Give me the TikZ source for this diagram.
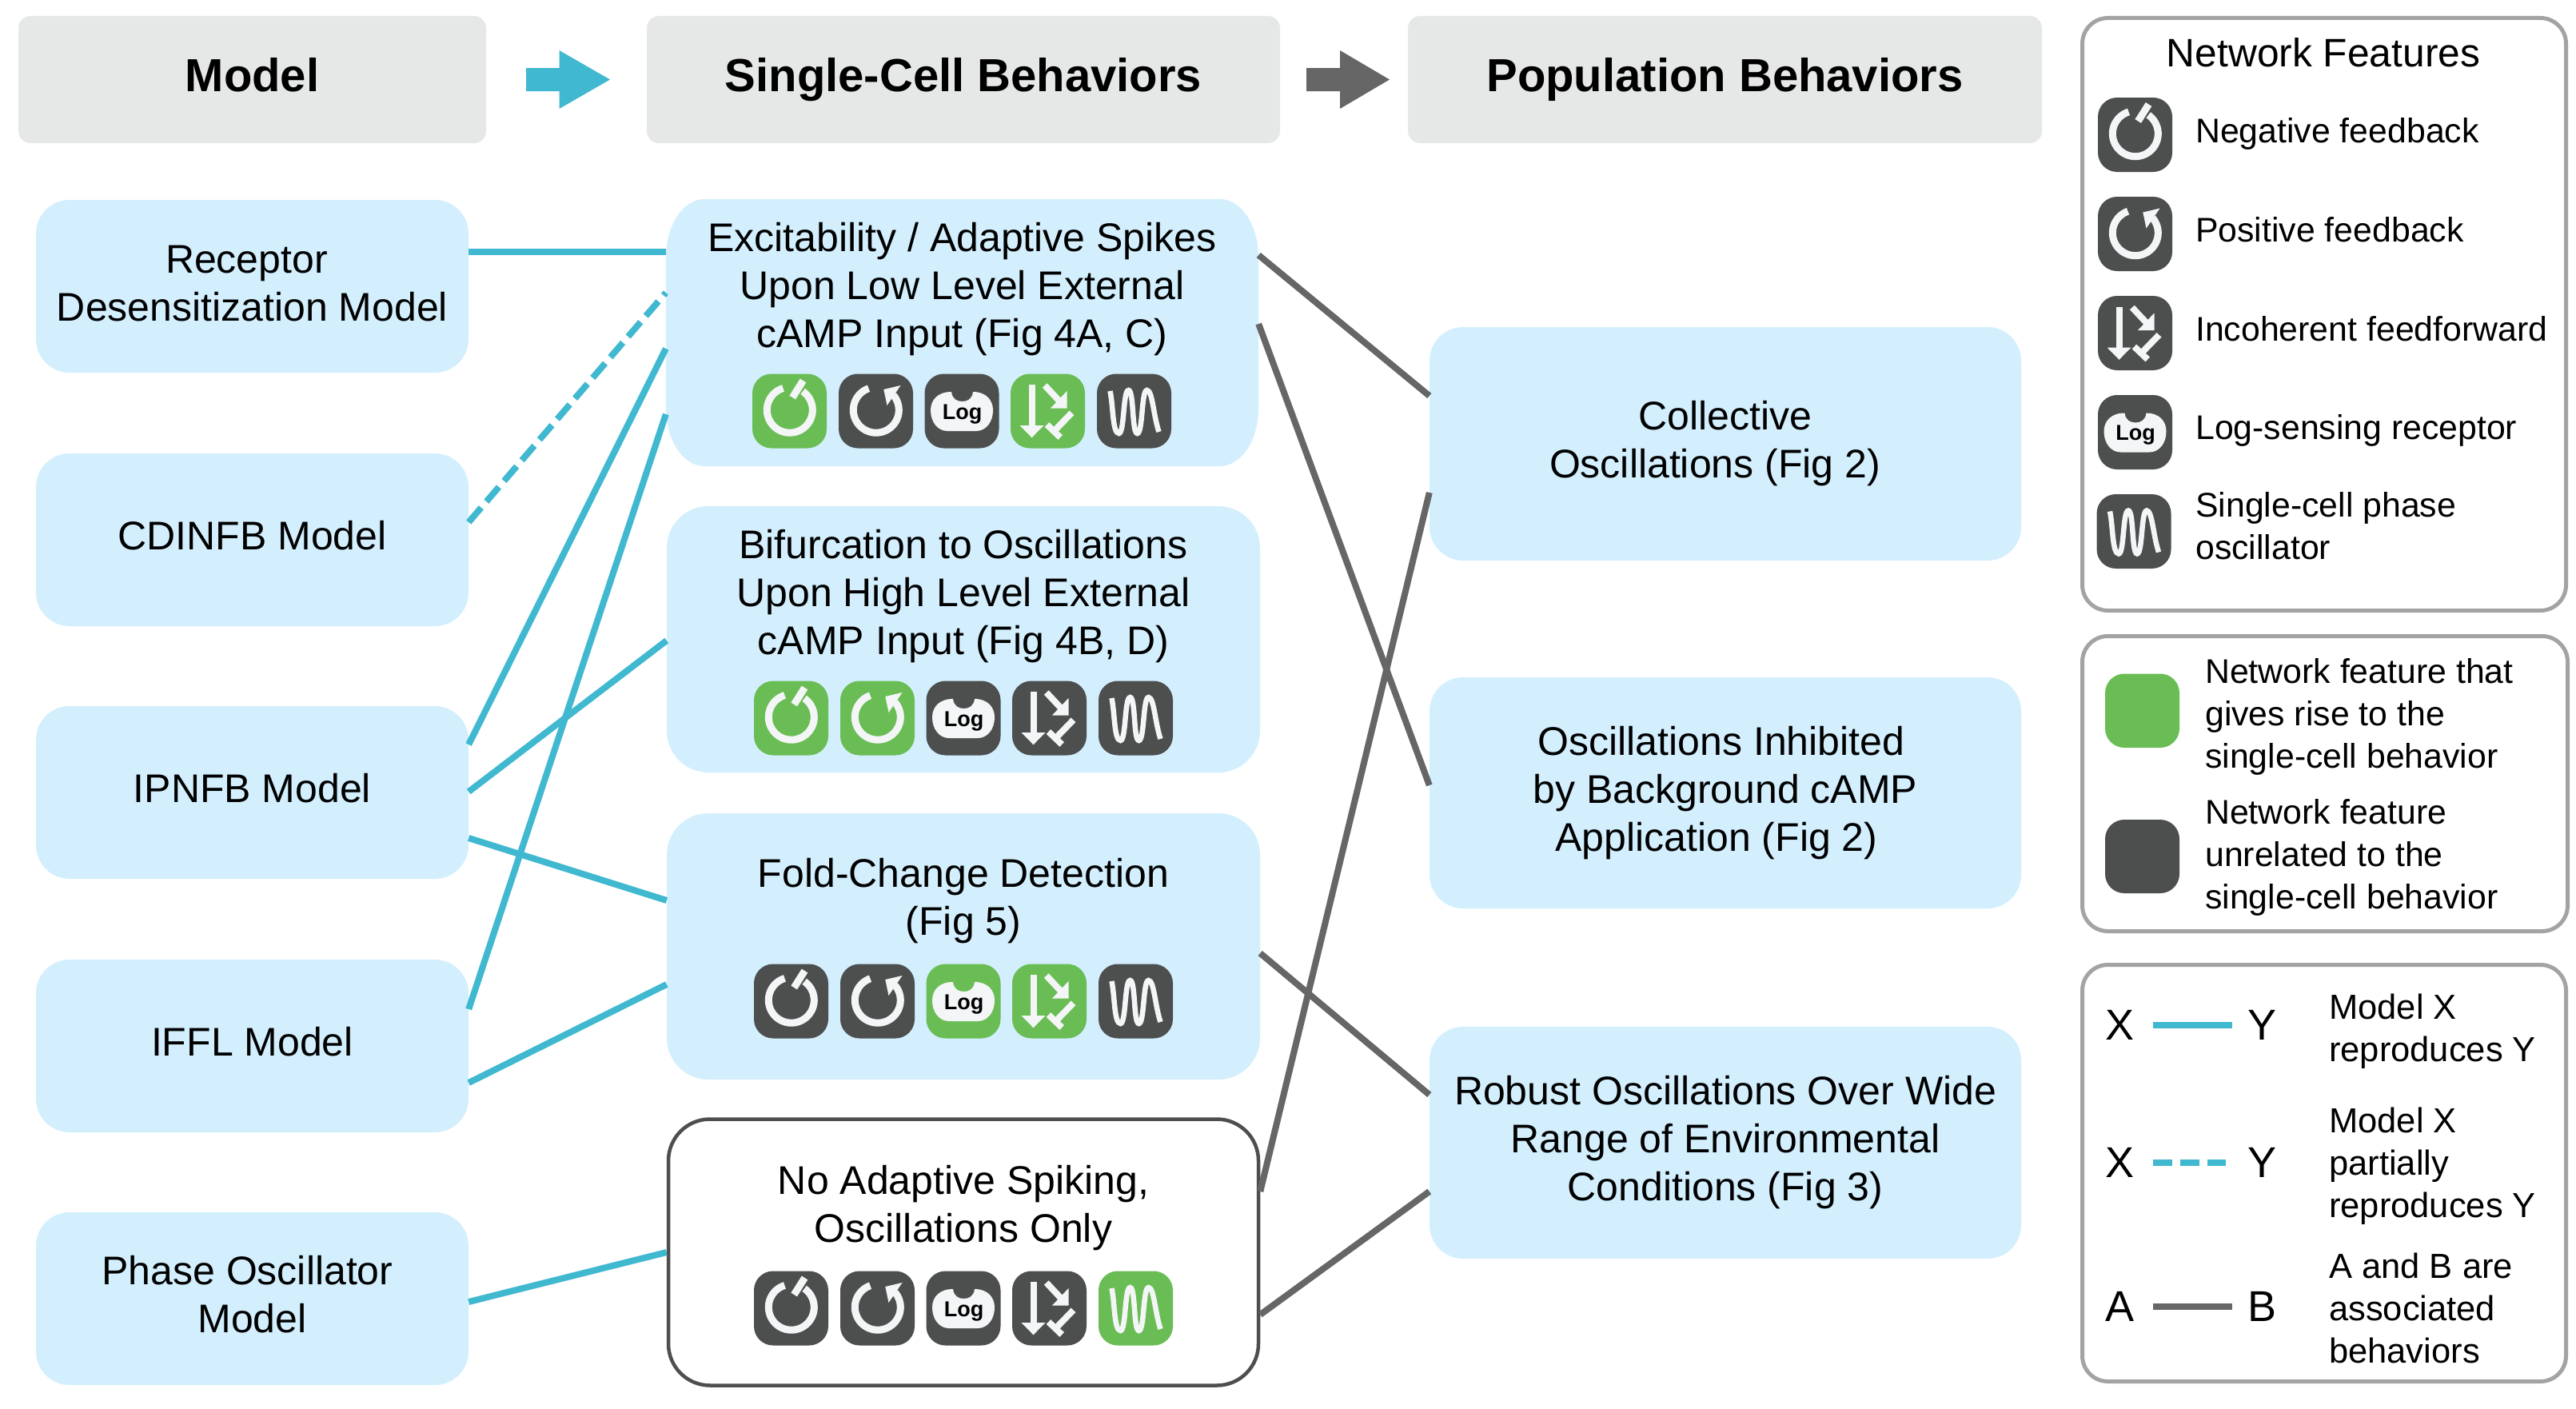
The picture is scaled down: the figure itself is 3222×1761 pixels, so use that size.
\documentclass[tikz,border=0pt]{standalone}
\usepackage{fontspec}
\setmainfont{Liberation Sans}
\definecolor{cy}{HTML}{3FB8D0}
\definecolor{gy}{HTML}{666666}
\definecolor{hd}{HTML}{E6E8E8}
\definecolor{bl}{HTML}{D3EFFE}
\definecolor{dk}{HTML}{4D4F4F}
\definecolor{gr}{HTML}{6ABD54}
\definecolor{iw}{HTML}{F4F5F7}
\definecolor{lg}{HTML}{A3A3A3}
\newcommand{\lowr}[1]{\rule[-#1pt]{0pt}{#1pt}}
\newcommand{\trail}[1]{\hspace*{#1pt}}
\tikzset{
  hdr/.style={fill=hd,rounded corners=15pt,inner sep=0pt,minimum height=159pt,text height=42pt,text depth=12pt,font=\fontsize{58}{66}\selectfont\bfseries},
  bx/.style={fill=bl,inner sep=0pt,align=center,font=\fontsize{50}{60}\selectfont},
  mdl/.style={bx,rounded corners=42pt,minimum width=541pt,minimum height=216pt},
  beh/.style={bx,rounded corners=52pt,minimum width=742pt},
  pop/.style={bx,rounded corners=42pt,minimum width=740pt},
  txt/.style={inner sep=0pt,align=center,font=\fontsize{50}{60}\selectfont},
  legbox/.style={draw=lg,line width=5pt,fill=white,rounded corners=32pt,inner sep=0pt},
  ltx/.style={inner sep=0pt,anchor=base west,font=\fontsize{42.8}{53}\selectfont},
  lml/.style={inner sep=0pt,anchor=west,align=left,font=\fontsize{42.8}{53}\selectfont},
  lmr/.style={inner sep=0pt,anchor=west,align=left,font=\fontsize{43.5}{53}\selectfont},
  big/.style={inner sep=0pt,font=\fontsize{54}{60}\selectfont},
  cline/.style={draw=cy,line width=8pt},
  gline/.style={draw=gy,line width=8pt},
  dline/.style={draw=cy,line width=8pt,dash pattern=on 24pt off 10pt},
  ist/.style={draw=iw,line width=9pt},
  ibg/.style={rounded corners=24pt},
  ineg/.pic={
    \fill[ibg,fill=#1] (-46.5,-46.5) rectangle (46.5,46.5);
    \draw[ist] plot[smooth,domain=107:415,samples=50] ({0.3+28.5*cos(\x)},{-1.3-28.5*sin(\x)});
    \draw[ist] (3.7,-17) -- (17,-38);
  },
  ipos/.pic={
    \fill[ibg,fill=#1] (-46.5,-46.5) rectangle (46.5,46.5);
    \draw[ist] plot[smooth,domain=109:401,samples=50] ({0.3+28.5*cos(\x)},{-1.3-28.5*sin(\x)});
    \fill[iw] (9.8,-27) -- (31,-32) -- (14,-7) -- cycle;
  },
  ilog/.pic={
    \fill[ibg,fill=#1] (-46.5,-46.5) rectangle (46.5,46.5);
    \fill[iw] (-13,-24) .. controls (-12,-15) and (-6,-12) .. (0.5,-12) .. controls (7,-12) and (13,-15) .. (14,-24)
      .. controls (30,-24) and (39,-14) .. (39,-1) .. controls (39,14) and (30,25) .. (18,25)
      -- (-18,25) .. controls (-30,25) and (-39,14) .. (-39,-1) .. controls (-39,-14) and (-30,-24) .. (-13,-24) -- cycle;
    \node[inner sep=0pt,anchor=base,font=\fontsize{27}{30}\selectfont\bfseries,text=black] (lbl) at (0.5,10) {Log};
  },
  iiff/.pic={
    \fill[ibg,fill=#1] (-46.5,-46.5) rectangle (46.5,46.5);
    \fill[iw] (-24,-33) rectangle (-16,18);
    \fill[iw] (-35,18) -- (-5,18) -- (-20,33.3) -- cycle;
    \draw[draw=iw,line width=8pt] (-3.7,-32) -- (15,-12);
    \fill[iw] (24,-25) -- (24,-3.3) -- (3.3,-3.3) -- cycle;
    \draw[draw=iw,line width=8pt] (30,2.3) -- (8,25);
    \draw[draw=iw,line width=8pt] (-1,17) -- (15.7,33);
  },
  iosc/.pic={
    \fill[ibg,fill=#1] (-46.5,-46.5) rectangle (46.5,46.5);
    \draw[draw=iw,line width=6.5pt] (-30,-25) .. controls (-26,-5) and (-27,28) .. (-19,28)
      .. controls (-12,28) and (-14,-26) .. (-7,-26) .. controls (0,-26) and (-3,28) .. (4,28)
      .. controls (11,28) and (9,-26) .. (16,-26) .. controls (23,-26) and (24,5) .. (31,26);
  },
}
\newcommand{\iconrow}[7]{%
  \begin{scope}[xshift=#7pt]
  \pic (a#1) at (987.5,#1) {ineg=#2};
  \pic (b#1) at (1095.5,#1) {ipos=#3};
  \pic (c#1) at (1203,#1) {ilog=#4};
  \pic (d#1) at (1310.5,#1) {iiff=#5};
  \pic (e#1) at (1418.5,#1) {iosc=#6};
  \end{scope}
}
\begin{document}
\begin{tikzpicture}[x=1pt,y=-1pt]
\useasboundingbox (0,0) rectangle (3222,1761);
\fill[white] (0,0) rectangle (3222,1761);
% headers
\node[hdr,minimum width=585pt] (h1) at (315.5,99.5) {Model};
\node[hdr,minimum width=792pt] (h2) at (1205,99.5) {Single-Cell Behaviors};
\node[hdr,minimum width=793pt] (h3) at (2157.5,99.5) {Population Behaviors};
\fill[cy] (658,85) -- (699.5,85) -- (699.5,63) -- (763,99.5) -- (699.5,136) -- (699.5,114) -- (658,114) -- cycle;
\fill[gy] (1634,85) -- (1676,85) -- (1676,63) -- (1738,99.5) -- (1676,136) -- (1676,114) -- (1634,114) -- cycle;
% models
\node[mdl] (m1) at (315.5,358) {Receptor\trail{14}\\Desensitization Model\lowr{8}};
\node[mdl,text depth=12pt] (m2) at (315.5,675) {CDINFB Model};
\node[mdl,text depth=12pt] (m3) at (315.5,991) {IPNFB Model};
\node[mdl,text depth=12pt] (m4) at (315.5,1308) {IFFL Model};
\node[mdl] (m5) at (315.5,1624) {Phase Oscillator\trail{12}\\Model\lowr{12}};
% behaviours
\fill[bl] (881,249) -- (1526,249) .. controls (1552.4,249) and (1574,281.4) .. (1574,321) -- (1574,511)
  .. controls (1574,550.6) and (1552.4,583) .. (1526,583) -- (881,583)
  .. controls (854.6,583) and (833,550.6) .. (833,511) -- (833,321)
  .. controls (833,281.4) and (854.6,249) .. (881,249) -- cycle;
\node[inner sep=0pt,minimum width=741pt,minimum height=334pt] (b1) at (1203.5,416) {};
\node[beh,minimum height=333pt] (b2) at (1205,799.5) {};
\node[beh,minimum height=333pt] (b3) at (1205,1183.5) {};
\node[beh,minimum width=738pt,minimum height=333pt,fill=white,draw=dk,line width=4.5pt] (b4) at (1205,1566) {};
\node[txt] (t1) at (1203.5,362) {Excitability / Adaptive Spikes\\Upon Low Level External\\cAMP Input (Fig 4A, C)};
\node[txt] (t2) at (1205,746) {Bifurcation to Oscillations\\Upon High Level External\\cAMP Input (Fig 4B, D)};
\node[txt] (t3) at (1205,1127) {Fold-Change Detection\\(Fig 5)};
\node[txt] (t4) at (1205,1511) {No Adaptive Spiking,\\Oscillations Only};
\iconrow{514}{gr}{dk}{dk}{gr}{dk}{0}
\iconrow{898}{gr}{gr}{dk}{dk}{dk}{2}
\iconrow{1252}{dk}{dk}{gr}{gr}{dk}{2}
\iconrow{1636}{dk}{dk}{dk}{dk}{gr}{2}
% populations
\node[pop,minimum height=292pt] (p1) at (2158,555) {Collective\\Oscillations (Fig 2)\trail{26}};
\node[pop,minimum height=289pt] (p2) at (2158,991.5) {Oscillations Inhibited\trail{10}\\by Background cAMP\trail{10}\\Application (Fig 2)\trail{22}};
\node[pop,minimum height=290pt] (p3) at (2158,1429) {Robust Oscillations Over Wide\\Range of Environmental\\Conditions (Fig 3)};
% connectors
\draw[cline] (m1.east |- 0,315) -- (b1.west |- 0,315);
\draw[dline] (m2.east |- 0,653) -- (b1.west |- 0,366);
\draw[cline] (m3.east |- 0,931) -- (b1.west |- 0,436);
\draw[cline] (m3.east |- 0,990) -- (b2.west |- 0,801);
\draw[cline] (m3.east |- 0,1048) -- (b3.west |- 0,1126);
\draw[cline] (m4.east |- 0,1262) -- (b1.west |- 0,518);
\draw[cline] (m4.east |- 0,1354) -- (b3.west |- 0,1231);
\draw[cline] (m5.east |- 0,1628) -- (b4.west |- 0,1566);
\draw[gline] (b1.east |- 0,319) -- (p1.west |- 0,495);
\draw[gline] (b1.east |- 0,405) -- (p2.west |- 0,982);
\draw[gline] (b3.east |- 0,1192) -- (p3.west |- 0,1369);
\draw[gline] (b4.east |- 0,1490) -- (p1.west |- 0,616);
\draw[gline] (b4.east |- 0,1644) -- (p3.west |- 0,1490);
% legend 1
\node[legbox,minimum width=605pt,minimum height=741pt] (l1) at (2907,393) {};
\node[inner sep=0pt,anchor=base,font=\fontsize{49.7}{60}\selectfont] (lt) at (2906,84) {Network Features};
\pic (la) at (2670.5,168.5) {ineg=dk};
\pic (lb) at (2670.5,292.5) {ipos=dk};
\pic (lc) at (2670.5,416.5) {iiff=dk};
\pic (ld) at (2670.5,540.5) {ilog=dk};
\pic (le) at (2669,664.5) {iosc=dk};
\node[ltx] (ln1) at (2746,178) {Negative feedback};
\node[ltx] (ln2) at (2746,302) {Positive feedback};
\node[ltx] (ln3) at (2746,426) {Incoherent feedforward};
\node[ltx] (ln4) at (2746,549) {Log-sensing receptor};
\node[lml] (ln5) at (2746,658) {Single-cell phase\\oscillator};
% legend 2
\node[legbox,minimum width=607pt,minimum height=369pt] (l2) at (2908,980) {};
\fill[gr,rounded corners=24pt] (2633,842.5) rectangle (2726,935);
\fill[dk,rounded corners=24pt] (2633,1025) rectangle (2726,1117);
\node[lml] (lm1) at (2758,896) {Network feature that\\gives rise to the\\single-cell behavior};
\node[lml] (lm2) at (2758,1072.5) {Network feature\\unrelated to the\\single-cell behavior};
% legend 3
\node[legbox,minimum width=605pt,minimum height=521pt] (l3) at (2907,1467) {};
\node[big] (x1) at (2651,1282) {X};
\node[big] (y1) at (2829,1282) {Y};
\node[big] (x2) at (2651,1454) {X};
\node[big] (y2) at (2829,1454) {Y};
\node[big] (a3) at (2651,1634) {A};
\node[big] (b3l) at (2829,1634) {B};
\coordinate (c1a) at (2693,1282); \coordinate (c1b) at (2792,1282);
\coordinate (c2a) at (2693,1454); \coordinate (c2b) at (2784,1454);
\coordinate (c3a) at (2693,1634); \coordinate (c3b) at (2792,1634);
\draw[cline] (c1a) -- (c1b);
\draw[dline] (c2a) -- (c2b);
\draw[gline] (c3a) -- (c3b);
\node[lmr] (lr1) at (2913,1289.5) {Model X\\reproduces Y};
\node[lmr] (lr2) at (2913,1458) {Model X\\partially\\reproduces Y};
\node[lmr] (lr3) at (2913,1636) {A and B are\\associated\\behaviors};
\end{tikzpicture}
\end{document}
